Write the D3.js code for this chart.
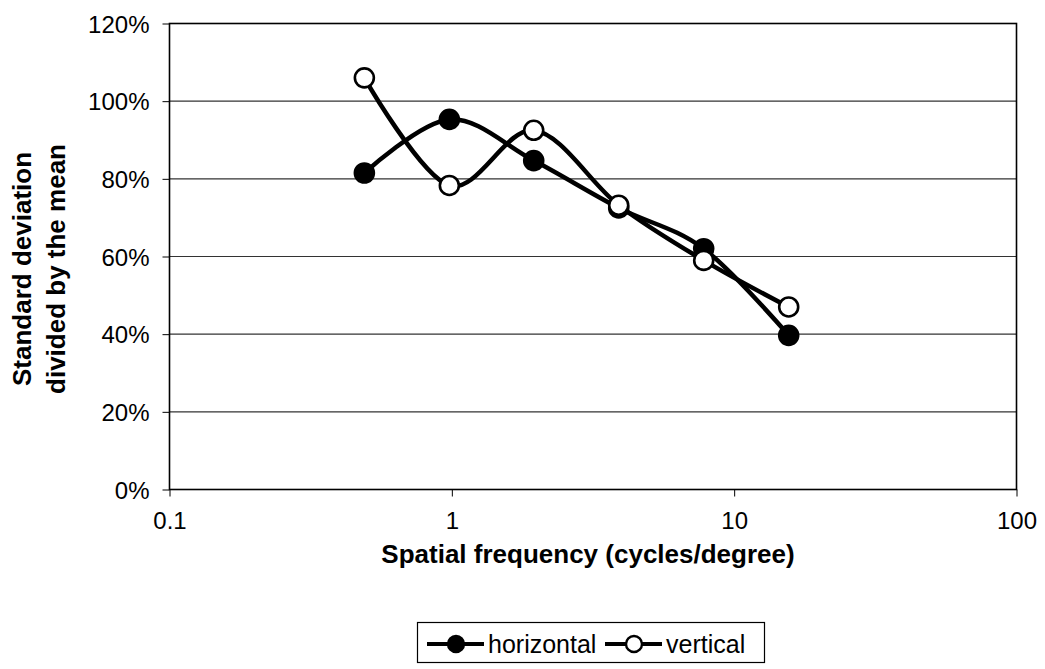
<!DOCTYPE html>
<html>
<head>
<meta charset="utf-8">
<script src="https://cdn.jsdelivr.net/npm/d3@7"></script>
<style>
	body { margin: 0; background: #fff; }
	svg { font-family: "Liberation Sans", Arial, sans-serif; }
	.tick text { font-size: 24px; fill: #000; }
	.tick line { stroke: #000; }
	.domain { display: none; }
</style>
</head>
<body>
<svg id="chart" width="1045" height="669"></svg>
<script>
// data
const freqs = [0.49, 0.98, 1.95, 3.9, 7.8, 15.6];
const horizontal = [0.815, 0.953, 0.847, 0.725, 0.62, 0.397];
const vertical = [1.06, 0.783, 0.925, 0.732, 0.59, 0.47];
const yTicks = [0, 0.2, 0.4, 0.6, 0.8, 1.0, 1.2];
const xTicks = [0.1, 1, 10, 100];

const series = [
	{ name: 'horizontal', values: horizontal, fill: '#000' },
	{ name: 'vertical', values: vertical, fill: '#fff' },
];

const margin = { left: 169.5, right: 1016.5, top: 23.5, bottom: 489.5 };

const svg = d3.select('#chart');

const x = d3.scaleLog().domain([0.1, 100]).range([margin.left, margin.right]);
const y = d3.scaleLinear().domain([0, 1.2]).range([margin.bottom, margin.top]);

// gridlines
svg.append('g')
	.selectAll('line')
	.data(yTicks.slice(1, -1))
	.enter().append('line')
		.attr('x1', margin.left).attr('x2', margin.right)
		.attr('y1', d => y(d)).attr('y2', d => y(d))
		.attr('stroke', '#333')
		.attr('stroke-width', 1.2);

// plot frame
svg.append('rect')
	.attr('x', margin.left).attr('y', margin.top)
	.attr('width', margin.right - margin.left)
	.attr('height', margin.bottom - margin.top)
	.attr('fill', 'none')
	.attr('stroke', '#000')
	.attr('stroke-width', 1.6);

svg.append('g')
	.attr('transform', `translate(${margin.left},0)`)
	.call(d3.axisLeft(y).tickValues(yTicks).tickFormat(d3.format('.0%')).tickSize(7).tickPadding(13))
	.selectAll('.tick text').attr('dy', '0.36em');

svg.append('g')
	.attr('transform', `translate(0,${margin.bottom})`)
	.call(d3.axisBottom(x).tickValues(xTicks).tickFormat(d => String(d)).tickSize(7).tickPadding(15));

// axis titles
svg.append('text')
	.attr('x', 588).attr('y', 563)
	.attr('text-anchor', 'middle')
	.attr('font-size', 26).attr('font-weight', 'bold')
	.text('Spatial frequency (cycles/degree)');

const yTitle = svg.append('text')
	.attr('transform', 'translate(0,269) rotate(-90)')
	.attr('text-anchor', 'middle')
	.attr('font-size', 26).attr('font-weight', 'bold');
yTitle.append('tspan').attr('x', 0).attr('y', 31).text('Standard deviation');
yTitle.append('tspan').attr('x', 0).attr('y', 65).text('divided by the mean');

// series
const line = d3.line()
	.x(d => x(d[0]))
	.y(d => y(d[1]))
	.curve(d3.curveCardinal.tension(0));

for (const s of series) {
	const pts = freqs.map((f, i) => [f, s.values[i]]);
	const g = svg.append('g');
	g.append('path')
		.attr('d', line(pts))
		.attr('fill', 'none')
		.attr('stroke', '#000')
		.attr('stroke-width', 4.5);
	g.selectAll('circle')
		.data(pts)
		.enter().append('circle')
			.attr('cx', d => x(d[0]))
			.attr('cy', d => y(d[1]))
			.attr('r', 9.5)
			.attr('fill', s.fill)
			.attr('stroke', '#000')
			.attr('stroke-width', 2.6);
}

// legend
const legend = svg.append('g');
legend.append('rect')
	.attr('x', 417.5).attr('y', 622.5)
	.attr('width', 347).attr('height', 40)
	.attr('fill', '#fff')
	.attr('stroke', '#000')
	.attr('stroke-width', 1.2);

const legendX = [427, 605];
series.forEach((s, i) => {
	const lx = legendX[i];
	legend.append('line')
		.attr('x1', lx).attr('x2', lx + 57)
		.attr('y1', 644).attr('y2', 644)
		.attr('stroke', '#000').attr('stroke-width', 4);
	legend.append('circle')
		.attr('cx', lx + 29).attr('cy', 644).attr('r', 8)
		.attr('fill', s.fill).attr('stroke', '#000').attr('stroke-width', 2.4);
	legend.append('text')
		.attr('x', lx + 61).attr('y', 644).attr('dy', '0.36em')
		.attr('font-size', 25)
		.text(s.name);
});
</script>
</body>
</html>
